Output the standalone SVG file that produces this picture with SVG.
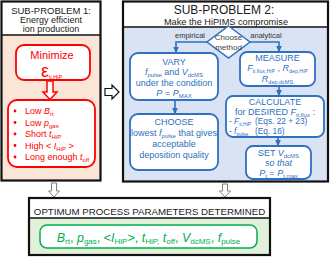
<svg xmlns="http://www.w3.org/2000/svg" width="330" height="257" viewBox="0 0 330 257">
<defs>
<style>
text{font-family:"Liberation Sans",Arial,sans-serif;}
.hd{fill:#1a1a1a;text-anchor:middle;}
.r{fill:#f00;font-size:9px;}
.b{fill:#2f70c0;font-size:9px;text-anchor:middle;}
.bl{fill:#2f70c0;font-size:8.3px;}
.lab{fill:#333;font-size:7.5px;text-anchor:middle;}
.g{fill:#00b050;font-size:12.5px;text-anchor:middle;}
.i{font-style:italic;}
.panel{fill:none;stroke:#111;stroke-width:2.2;}
.sep{stroke:#111;stroke-width:1.5;}
.rbox{fill:#fff;stroke:#f00;stroke-width:1.8;}
.bbox{fill:#fff;stroke:#2f70c0;stroke-width:1.8;}
.conn{fill:none;stroke:#2f70c0;stroke-width:1.6;}
.hollow{fill:#fff;stroke:#111;stroke-width:1.2;}
.gray{fill:#fff;stroke:#7f7f7f;stroke-width:1;}
</style>
<marker id="ah" markerWidth="7" markerHeight="6" refX="6" refY="3" orient="auto" markerUnits="userSpaceOnUse"><path d="M0,0 L7,3 L0,6 z" fill="#2f70c0"/></marker>
</defs>

<g id="subproblem1">
<rect x="1.5" y="1.5" width="99" height="179" fill="#fbe5d6"/>
<rect x="1.5" y="1.5" width="99" height="33.5" fill="#fff"/>
<line class="sep" x1="1.5" y1="35" x2="100.5" y2="35"/>
<rect class="panel" x="1.5" y="1.5" width="99" height="179"/>
<text class="hd" x="51" y="14" font-size="9.5">SUB-PROBLEM 1:</text>
<text class="hd" x="51" y="23" font-size="9">Energy efficient</text>
<text class="hd" x="51" y="32" font-size="9">ion production</text>
</g>

<g id="minimize">
<rect class="rbox" x="16" y="45" width="74" height="35" rx="8"/>
<text x="52" y="59" fill="#f00" font-size="11" text-anchor="middle">Minimize</text>
<text x="41" y="77" fill="#f00" font-size="18">ε<tspan font-size="5.5" dy="2">ti,HiP</tspan></text>
</g>

<g id="criteria">
<rect class="rbox" x="8" y="100" width="87" height="67" rx="9"/>
<g fill="#f00">
<circle cx="15" cy="111" r="1.4"/>
<circle cx="15" cy="122.5" r="1.4"/>
<circle cx="15" cy="134" r="1.4"/>
<circle cx="15" cy="145.5" r="1.4"/>
<circle cx="15" cy="157" r="1.4"/>
</g>
<text class="r" x="25" y="114">Low <tspan class="i">B</tspan><tspan font-size="6" dy="2">rt</tspan></text>
<text class="r" x="25" y="125.5">Low <tspan class="i">p</tspan><tspan font-size="6" dy="2">gas</tspan></text>
<text class="r" x="25" y="137">Short <tspan class="i">t</tspan><tspan font-size="6" dy="2">HiP</tspan></text>
<text class="r" x="25" y="148.5">High &lt; <tspan class="i">I</tspan><tspan font-size="6" dy="2">HiP</tspan><tspan dy="-2"> &gt;</tspan></text>
<text class="r" x="25" y="160">Long enough <tspan class="i">t</tspan><tspan font-size="6" dy="2">off</tspan></text>
</g>

<g id="subproblem2">
<rect x="123" y="1.5" width="205" height="180" fill="#dae3f3"/>
<rect x="123" y="1.5" width="205" height="25.5" fill="#fff"/>
<line class="sep" x1="123" y1="27" x2="328" y2="27"/>
<rect class="panel" x="123" y="1.5" width="205" height="180"/>
<text class="hd" x="224" y="14" font-size="12">SUB-PROBLEM 2:</text>
<text class="hd" x="226" y="24.5" font-size="9.2">Make the HiPIMS compromise</text>
</g>

<g id="choose-method">
<polygon points="228.5,26 250,42 228.5,58 207,42" fill="#fff" stroke="#2f70c0" stroke-width="1.5"/>
<text x="228.5" y="40" fill="#444" font-size="8" text-anchor="middle">Choose</text>
<text x="228.5" y="50" fill="#444" font-size="8" text-anchor="middle">method</text>
</g>

<g id="vary">
<rect class="bbox" x="130" y="53" width="88" height="47" rx="8"/>
<text class="b" x="174" y="65">VARY</text>
<text class="b" x="174" y="75"><tspan class="i">f</tspan><tspan font-size="6" dy="2">pulse</tspan><tspan dy="-2"> and </tspan><tspan class="i">V</tspan><tspan font-size="6" dy="2">dcMS</tspan></text>
<text class="b" x="174" y="85.5">under the condition</text>
<text class="b" x="174" y="96"><tspan class="i">P</tspan> = <tspan class="i">P</tspan><tspan font-size="6" dy="2">MAX</tspan></text>
</g>

<g id="choose">
<rect class="bbox" x="130" y="114" width="88" height="56" rx="8"/>
<text class="b" x="174" y="125">CHOOSE</text>
<text class="b" x="174" y="136">lowest <tspan class="i">f</tspan><tspan font-size="6" dy="2">pulse</tspan><tspan dy="-2"> that gives</tspan></text>
<text class="b" x="174" y="147">acceptable</text>
<text class="b" x="174" y="158">deposition quality</text>
</g>

<g id="measure">
<rect class="bbox" x="240" y="52" width="75" height="34" rx="7"/>
<text class="b" x="277.5" y="60.5" font-size="8.7">MEASURE</text>
<text class="b" x="277.5" y="71"><tspan class="i" font-size="9">F</tspan><tspan font-size="5.3" dy="1.5">ti,flux,HiP</tspan><tspan dy="-1.5"> , </tspan><tspan class="i" font-size="9">R</tspan><tspan font-size="5.3" dy="1.5">dep,HiP</tspan></text>
<text class="b" x="277.5" y="82"><tspan class="i" font-size="9">R</tspan><tspan font-size="5.5" dy="1.5">dep,dcMS</tspan></text>
</g>

<g id="calculate">
<rect class="bbox" x="226" y="96" width="98" height="41" rx="7"/>
<text class="b" x="275" y="104.5">CALCULATE</text>
<text class="b" x="275" y="114.5">for DESIRED <tspan class="i">F</tspan><tspan font-size="6" dy="2">ti,flux</tspan><tspan dy="-2"> :</tspan></text>
<text class="bl" x="229" y="124">- <tspan class="i">F</tspan><tspan font-size="5" dy="2">ti,HiP</tspan></text>
<text class="bl" x="255" y="124">(Eqs. 22 + 23)</text>
<text class="bl" x="229" y="134">- <tspan class="i">f</tspan><tspan font-size="5" dy="2">pulse</tspan></text>
<text class="bl" x="255" y="134">(Eq. 16)</text>
</g>

<g id="set">
<rect class="bbox" x="246" y="146" width="65" height="33" rx="7"/>
<text class="b" x="278.5" y="156">SET <tspan class="i">V</tspan><tspan font-size="6" dy="2">dcMS</tspan></text>
<text class="b i" x="278.5" y="165.5">so that</text>
<text class="b" x="278.5" y="175.5" font-size="10"><tspan class="i">P</tspan><tspan font-size="6" dy="2">t</tspan><tspan dy="-2"> = </tspan><tspan class="i">P</tspan><tspan font-size="6" dy="2">t,max</tspan></text>
</g>

<g id="result">
<rect x="29" y="198" width="241" height="57" fill="#e2f0d9"/>
<rect x="29" y="198" width="241" height="20" fill="#fff"/>
<line class="sep" x1="29" y1="218" x2="270" y2="218"/>
<rect class="panel" x="29" y="198" width="241" height="57"/>
<text class="hd" x="149.5" y="214.5" font-size="9.7">OPTIMUM PROCESS PARAMETERS DETERMINED</text>
<rect x="40" y="225" width="217" height="23" rx="7" fill="#fff" stroke="#00b050" stroke-width="1.5"/>
<text class="g" x="148.5" y="241.5"><tspan class="i">B</tspan><tspan font-size="8" dy="2.5">rt</tspan><tspan dy="-2.5">, </tspan><tspan class="i">p</tspan><tspan font-size="8" dy="2.5">gas</tspan><tspan dy="-2.5">, &lt;</tspan><tspan class="i">I</tspan><tspan font-size="8" dy="2.5">HiP</tspan><tspan dy="-2.5">&gt;, </tspan><tspan class="i">t</tspan><tspan font-size="8" dy="2.5">HiP,</tspan><tspan dy="-2.5"> </tspan><tspan class="i">t</tspan><tspan font-size="8" dy="2.5">off</tspan><tspan dy="-2.5">, </tspan><tspan class="i">V</tspan><tspan font-size="8" dy="2.5">dcMS</tspan><tspan dy="-2.5">, </tspan><tspan class="i">f</tspan><tspan font-size="8" dy="2.5">pulse</tspan></text>
</g>

<g id="connectors">
<polygon points="47,81 53,81 53,92 57,92 50,99.5 43,92 47,92" fill="#fff" stroke="#f00" stroke-width="1.5"/>
<polygon class="hollow" points="105,88.5 112,88.5 112,85 119,92 112,99 112,95.5 105,95.5"/>
<polygon class="gray" points="51.5,183 56.5,183 56.5,191 59.5,191 54,197 48.5,191 51.5,191"/>
<polygon class="gray" points="222.5,184 227.5,184 227.5,191 230.5,191 225,197 219.5,191 222.5,191"/>
<path class="conn" d="M207,42 H176 V52.5" marker-end="url(#ah)"/>
<path class="conn" d="M250,42 H279 V51.5" marker-end="url(#ah)"/>
<path class="conn" d="M175,100 V113.5" marker-end="url(#ah)"/>
<path class="conn" d="M279,86 V95.5" marker-end="url(#ah)"/>
<path class="conn" d="M278,137 V145.5" marker-end="url(#ah)"/>
<text class="lab" x="190" y="37.5">empirical</text>
<text class="lab" x="266" y="37.5">analytical</text>
</g>
</svg>
